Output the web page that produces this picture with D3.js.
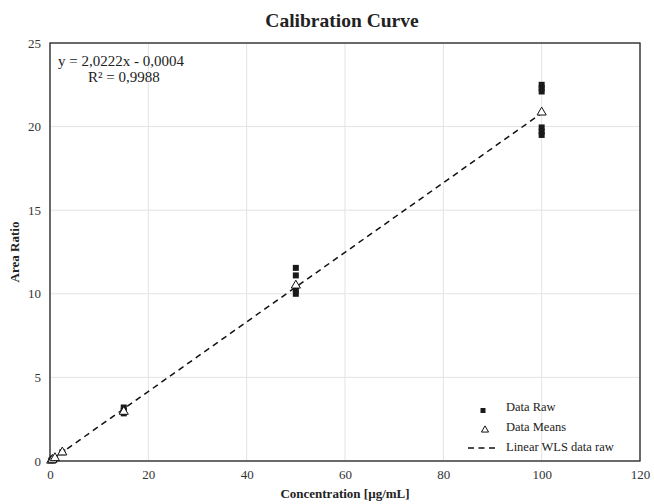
<!DOCTYPE html>
<html>
<head>
<meta charset="utf-8">
<script src="https://cdn.jsdelivr.net/npm/d3@7"></script>
<style>
  body { margin: 0; background: #fff; }
  text { font-family: "Liberation Serif", "Times New Roman", serif; }
</style>
</head>
<body>
<svg id="chart" width="654" height="504"></svg>
<script>
// raw measurements (concentration, area ratio)
var rawX = [0.25, 0.5, 1, 2.5, 15, 15, 15, 50, 50, 50, 50, 100, 100, 100, 100, 100, 100];
var rawY = [0.03, 0.08, 0.18, 0.52, 3.2, 3.0, 2.85, 11.55, 11.1, 10.25, 10.0, 22.5, 22.3, 22.1, 19.95, 19.7, 19.5];

// means per level
var meanX = [0.25, 0.5, 1, 2.5, 15, 50, 100];
var meanY = [0.03, 0.08, 0.18, 0.52, 2.95, 10.5, 20.85];

// trendline as drawn on the chart (end points)
var fitX = [0, 100];
var fitY = [0, 20.8];

// label shown on the chart
var equationText = "y = 2,0222x - 0,0004";
var r2Text = "R² = 0,9988";

var xTicks = [0, 20, 40, 60, 80, 100, 120];
var yTicks = [0, 5, 10, 15, 20, 25];

var legendItems = ["Data Raw", "Data Means", "Linear WLS data raw"];

var svg = d3.select("#chart");
var margin = {left: 50, right: 14, top: 43, bottom: 43};
var width = 654 - margin.left - margin.right,
  height = 504 - margin.top - margin.bottom;

var x = d3.scaleLinear().domain([0, 120]).range([0, width]);
var y = d3.scaleLinear().domain([0, 25]).range([height, 0]);

var g = svg.append("g")
  .attr("transform", "translate(" + margin.left + "," + margin.top + ")");

//gridlines
g.append("g")
  .selectAll("line")
  .data(xTicks)
  .enter()
  .append("line")
  .attr("x1", function (d) { return x(d); })
  .attr("x2", function (d) { return x(d); })
  .attr("y1", 0)
  .attr("y2", height)
  .style("stroke", "#e3e3e3")
  .style("stroke-width", 1);

g.append("g")
  .selectAll("line")
  .data(yTicks)
  .enter()
  .append("line")
  .attr("x1", 0)
  .attr("x2", width)
  .attr("y1", function (d) { return y(d); })
  .attr("y2", function (d) { return y(d); })
  .style("stroke", "#e3e3e3")
  .style("stroke-width", 1);

//axes (no tick marks, only labels)
var xAxis = g.append("g")
  .attr("transform", "translate(0," + height + ")")
  .call(d3.axisBottom(x).tickValues(xTicks).tickSize(0).tickPadding(9));
var yAxis = g.append("g")
  .call(d3.axisLeft(y).tickValues(yTicks).tickSize(0).tickPadding(9));

[xAxis, yAxis].forEach(function (a) {
  a.select(".domain").remove();
  a.selectAll("text")
    .style("font-family", "'Liberation Serif', serif")
    .style("font-size", "13px")
    .style("fill", "#333");
});

//plot border
g.append("rect")
  .attr("width", width)
  .attr("height", height)
  .style("fill", "none")
  .style("stroke", "#222")
  .style("stroke-width", 1.3);

//fit line
var line = d3.line()
  .x(function (d) { return x(d); })
  .y(function (d, i) { return y(fitY[i]); });

g.append("path")
  .datum(fitX)
  .attr("d", line)
  .style("fill", "none")
  .style("stroke", "#111")
  .style("stroke-width", 1.5)
  .style("stroke-dasharray", "6,4.5");

//raw squares
var side = 6;
g.append("g")
  .selectAll("rect")
  .data(rawX)
  .enter()
  .append("rect")
  .attr("x", function (d) { return x(d) - side / 2; })
  .attr("y", function (d, i) { return y(rawY[i]) - side / 2; })
  .attr("width", side)
  .attr("height", side)
  .style("fill", "#1a1a1a");

//mean triangles
var tri = d3.symbol().type(d3.symbolTriangle).size(36);
g.append("g")
  .selectAll("path")
  .data(meanX)
  .enter()
  .append("path")
  .attr("d", tri)
  .attr("transform", function (d, i) {
    return "translate(" + x(d) + "," + y(meanY[i]) + ")";
  })
  .style("fill", "#fff")
  .style("stroke", "#111")
  .style("stroke-width", 1);

//equation text
g.append("text")
  .attr("x", 8)
  .attr("y", 23)
  .style("font-size", "15px")
  .style("fill", "#222")
  .text(equationText);
g.append("text")
  .attr("x", 38)
  .attr("y", 39)
  .style("font-size", "15px")
  .style("fill", "#222")
  .text(r2Text);

//legend
var legend = svg.append("g")
  .attr("transform", "translate(483,407)");
var rowH = 20;
legend.selectAll("text")
  .data(legendItems)
  .enter()
  .append("text")
  .attr("x", 23)
  .attr("y", function (d, i) { return i * rowH + 4; })
  .style("font-size", "12.5px")
  .style("fill", "#222")
  .text(function (d) { return d; });

legend.append("rect")
  .attr("x", -2.5)
  .attr("y", 1)
  .attr("width", 5)
  .attr("height", 5)
  .style("fill", "#1a1a1a");
legend.append("path")
  .attr("d", d3.symbol().type(d3.symbolTriangle).size(22))
  .attr("transform", "translate(2," + (rowH + 3) + ")")
  .style("fill", "#fff")
  .style("stroke", "#111")
  .style("stroke-width", 1);
legend.append("line")
  .attr("x1", -15)
  .attr("x2", 15)
  .attr("y1", 2 * rowH + 1)
  .attr("y2", 2 * rowH + 1)
  .style("stroke", "#111")
  .style("stroke-width", 1.5)
  .style("stroke-dasharray", "6,4.5");

//title and axis titles
svg.append("text")
  .attr("x", 342)
  .attr("y", 27)
  .attr("text-anchor", "middle")
  .style("font-size", "19.5px")
  .style("font-weight", "bold")
  .style("fill", "#222")
  .text("Calibration Curve");

svg.append("text")
  .attr("x", margin.left + width / 2)
  .attr("y", 498)
  .attr("text-anchor", "middle")
  .style("font-size", "13px")
  .style("font-weight", "bold")
  .style("fill", "#222")
  .text("Concentration [µg/mL]");

svg.append("text")
  .attr("transform", "translate(19," + (margin.top + height / 2) + ") rotate(-90)")
  .attr("text-anchor", "middle")
  .style("font-size", "13px")
  .style("font-weight", "bold")
  .style("fill", "#222")
  .text("Area Ratio");
</script>
</body>
</html>
